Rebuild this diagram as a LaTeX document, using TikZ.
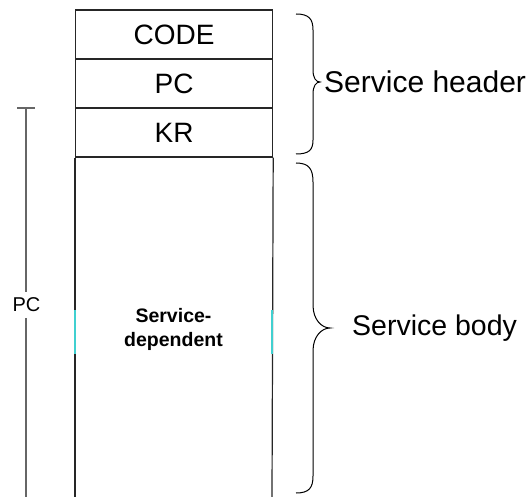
\documentclass[tikz,border=0pt]{standalone}
\usepackage{fontspec}
\setmainfont{Liberation Sans}
\begin{document}
\begin{tikzpicture}[x=1pt,y=-1pt,
  boxline/.style={draw=black!85,line width=1.2pt},
  cell/.style={draw=black!85,line width=1.2pt,minimum width=197pt,minimum height=49pt,inner sep=0pt,anchor=north west,font=\fontsize{28}{32}\selectfont},
  bigtxt/.style={font=\fontsize{28.5}{32}\selectfont,inner sep=0pt,anchor=west},
  brace/.style={draw=black,line width=1pt},
  pcline/.style={draw=black!60,line width=1.4pt},
  accent/.style={draw={rgb,255:red,64;green,208;blue,208},line width=1.4pt}]
\useasboundingbox (0,0) rectangle (528,497);
% header cells
\node[cell] (code) at (75,9.5) {CODE};
\node[cell] (pc) at (75,58.5) {PC};
\node[cell] (kr) at (75,107.5) {KR};
% body (open at bottom)
\coordinate (bl) at (75,497);
\coordinate (br) at (272,497);
\draw[boxline] (kr.south west) -- (bl);
\draw[boxline] (kr.south east) -- (br);
\coordinate (cl1) at (75,310); \coordinate (cl2) at (75,354);
\coordinate (cr1) at (272,310); \coordinate (cr2) at (272,354);
\draw[accent] (cl1) -- (cl2);
\draw[accent] (cr1) -- (cr2);
\node[font=\fontsize{19.5}{24}\selectfont\bfseries,align=center,inner sep=0pt] (dep) at (173.5,329) {Service-\\dependent};
% PC length line
\coordinate (tk1) at (17,108); \coordinate (tk2) at (35,108);
\coordinate (pt) at (26,108); \coordinate (pb) at (26,497);
\node[font=\fontsize{20}{24}\selectfont,inner sep=0pt] (pclab) at (26.5,305) {PC};
\draw[pcline] (tk1) -- (tk2);
\draw[pcline] (pt) -- (26,292);
\draw[pcline] (26,318) -- (pb);
% header brace
\draw[brace] (296,14) .. controls (309,14) and (313,19) .. (313,30) -- (313,70)
  .. controls (313,78) and (316,82) .. (320,82)
  .. controls (316,82) and (313,86) .. (313,94) -- (313,140)
  .. controls (313,150) and (309,154) .. (296,154);
\node[bigtxt,font=\fontsize{30}{34}\selectfont] (hdr) at (324,82) {Service header};
% body brace
\draw[brace] (296,163) .. controls (309,163) and (313,169) .. (313,182) -- (313,305)
  .. controls (313,320) and (322,328) .. (330,328)
  .. controls (322,328) and (313,336) .. (313,351) -- (313,476)
  .. controls (313,488) and (309,493) .. (296,493);
\node[bigtxt] (body) at (352,328) {Service body};
\end{tikzpicture}
\end{document}
